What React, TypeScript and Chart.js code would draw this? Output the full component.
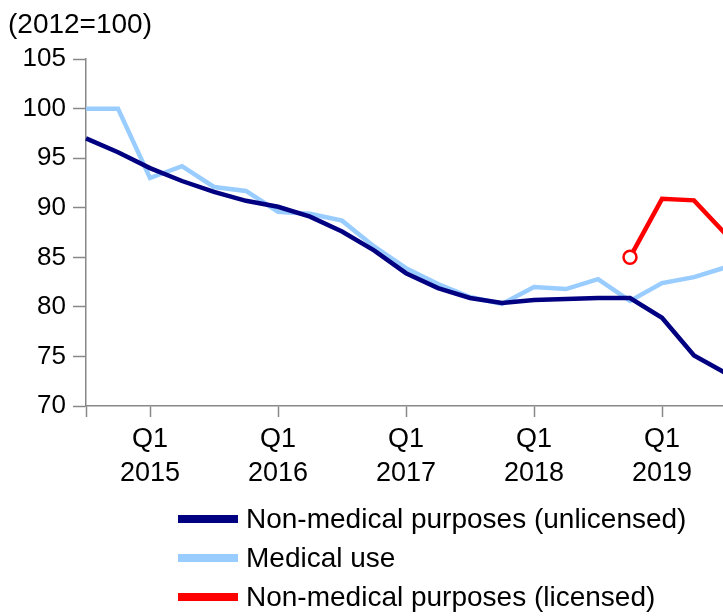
import React, { useEffect, useRef } from "react";
import { Chart, registerables } from "chart.js";

Chart.register(...registerables);

const quarters = [
  "2014 Q3", "2014 Q4",
  "2015 Q1", "2015 Q2", "2015 Q3", "2015 Q4",
  "2016 Q1", "2016 Q2", "2016 Q3", "2016 Q4",
  "2017 Q1", "2017 Q2", "2017 Q3", "2017 Q4",
  "2018 Q1", "2018 Q2", "2018 Q3", "2018 Q4",
  "2019 Q1", "2019 Q2", "2019 Q3",
];

const nonMedicalUnlicensed = [
  97.0, 95.6, 94.0, 92.7, 91.6, 90.7, 90.1, 89.1, 87.6, 85.7, 83.4, 81.9,
  80.9, 80.4, 80.7, 80.8, 80.9, 80.9, 78.9, 75.1, 73.3,
];

const medicalUse = [
  100.0, 100.0, 93.0, 94.2, 92.1, 91.7, 89.6, 89.4, 88.7, 86.1, 83.9, 82.3,
  81.0, 80.3, 82.0, 81.8, 82.8, 80.6, 82.4, 83.0, 84.0,
];

const nonMedicalLicensed = [
  null, null, null, null, null, null, null, null, null, null, null, null,
  null, null, null, null, null, 85.0, 90.9, 90.75, 87.3,
];

const seriesNames = [
  "Non-medical purposes (unlicensed)",
  "Medical use",
  "Non-medical purposes (licensed)",
];
const seriesColors = ["#000080", "#99ccff", "#ff0000"];
const yAxisTitle = "(2012=100)";

const FONT = "'Liberation Sans', Arial, sans-serif";

export default function App() {
  const canvasRef = useRef<HTMLCanvasElement | null>(null);

  useEffect(() => {
    const canvas = canvasRef.current;
    if (!canvas) return;
    const chart = new Chart(canvas, {
      type: "line",
      data: {
        labels: quarters,
        datasets: [
          {
            label: seriesNames[0],
            data: nonMedicalUnlicensed,
            borderColor: seriesColors[0],
            backgroundColor: seriesColors[0],
            borderWidth: 4.5,
            pointRadius: 0,
            tension: 0,
          },
          {
            label: seriesNames[1],
            data: medicalUse,
            borderColor: seriesColors[1],
            backgroundColor: seriesColors[1],
            borderWidth: 4.5,
            pointRadius: 0,
            tension: 0,
          },
          {
            label: seriesNames[2],
            data: nonMedicalLicensed,
            borderColor: seriesColors[2],
            backgroundColor: "#ffffff",
            borderWidth: 4.5,
            pointRadius: (ctx: any) => (ctx.dataIndex === 17 ? 6.5 : 0),
            pointBorderWidth: 2.5,
            pointBackgroundColor: "#ffffff",
            pointBorderColor: seriesColors[2],
            tension: 0,
            spanGaps: false,
          },
        ],
      },
      options: {
        responsive: false,
        animation: false,
        layout: { padding: { left: 0, right: 0, top: 0, bottom: 0 } },
        plugins: {
          legend: { display: false },
          tooltip: { enabled: false },
          title: {
            display: true,
            text: yAxisTitle,
            align: "start",
            color: "#000000",
            font: { family: FONT, size: 28, weight: "normal", lineHeight: 1.2 },
            padding: { top: 0, bottom: 17.5 },
          },
        },
        scales: {
          x: {
            type: "category",
            offset: false,
            grid: {
              drawOnChartArea: false,
              drawTicks: true,
              tickLength: 11,
              tickWidth: 1.5,
              tickColor: (ctx: any) =>
                ctx.index === 0 || ctx.index % 4 === 2 ? "#888888" : "rgba(0,0,0,0)",
            },
            border: { color: "#888888", width: 1.5 },
            ticks: {
              autoSkip: false,
              maxRotation: 0,
              minRotation: 0,
              padding: 6,
              color: "#000000",
              font: { family: FONT, size: 27, lineHeight: 1.25 },
              callback: (_v: any, i: number) => {
                const lab = quarters[i];
                if (lab && lab.endsWith("Q1")) return ["Q1", lab.slice(0, 4)];
                return "";
              },
            },
            afterFit: (scale: any) => {
              scale.height = 210;
            },
          },
          y: {
            min: 70,
            max: 105,
            grid: {
              drawOnChartArea: false,
              drawTicks: true,
              tickLength: 13,
              tickWidth: 1.5,
              tickColor: "#888888",
            },
            border: { color: "#888888", width: 1.5 },
            ticks: {
              stepSize: 5,
              padding: 7,
              color: "#000000",
              font: { family: FONT, size: 26 },
            },
            afterFit: (scale: any) => {
              scale.width = 78;
            },
          },
        },
      },
    });
    return () => chart.destroy();
  }, []);

  const rowTops = [497, 536, 575];

  return (
    <div style={{ height: 608 }}>
      <div
        style={{
          position: "fixed",
          left: 8,
          top: 8,
          width: 715,
          height: 608,
          overflow: "hidden",
        }}
      >
        <canvas ref={canvasRef} width={724} height={608} style={{ display: "block" }} />
        {seriesNames.map((name, i) => (
          <div
            key={name}
            style={{
              position: "absolute",
              left: 170,
              top: rowTops[i],
              height: 28,
              display: "flex",
              alignItems: "center",
              fontFamily: FONT,
              fontSize: 28,
              color: "#000000",
              whiteSpace: "nowrap",
            }}
          >
            <span
              style={{
                display: "inline-block",
                width: 60,
                height: 8,
                background: seriesColors[i],
                marginRight: 8,
              }}
            />
            <span>{name}</span>
          </div>
        ))}
      </div>
    </div>
  );
}
